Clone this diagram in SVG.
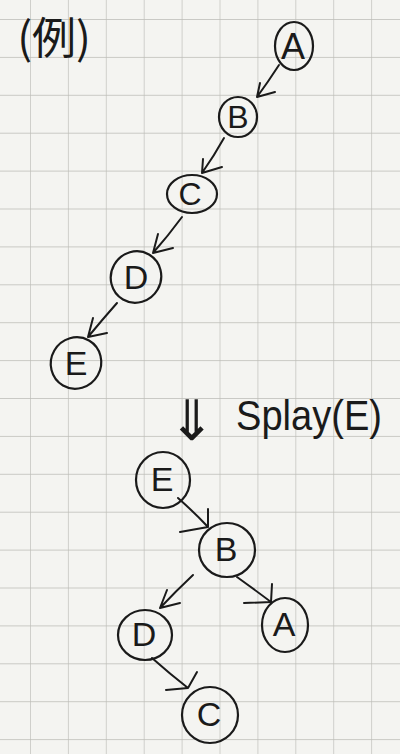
<svg xmlns="http://www.w3.org/2000/svg" width="400" height="754" viewBox="0 0 400 754">
<defs>
<pattern id="grid" x="30" y="19" width="37.9" height="37.9" patternUnits="userSpaceOnUse">
<path d="M0 0H37.9M0 0V37.9" fill="none" stroke="#bcbcb6" stroke-width="1.3"/>
</pattern>
<style>
.n{fill:none;stroke:#1a1a1a;stroke-width:2.2}
.l{font-family:"Liberation Sans",sans-serif;fill:#1a1a1a;text-anchor:middle;dominant-baseline:central}
.c{fill:none;stroke:#1a1a1a;stroke-width:2;stroke-linecap:round;stroke-linejoin:round}
</style>
</defs>
<rect width="400" height="754" fill="#f4f4f1"/>
<rect width="400" height="754" fill="url(#grid)"/>
<text x="54" y="54" font-family="'Noto Sans CJK JP',sans-serif" font-size="44" fill="#1a1a1a" text-anchor="middle">(例)</text>
<g id="connectors">
<path class="c" d="M279 65Q268 82 257 97M260 83L257 97L275 92"/>
<path class="c" d="M224 138Q214 156 202 173M203 159L202 173L222 167"/>
<path class="c" d="M182 217Q168 236 153 253M158 234L153 253L173 248"/>
<path class="c" d="M117 303Q102 320 88 337M93 318L88 337L107 333"/>
<path class="c" d="M178 498Q196 514 208 527M208 509L208 527L180 532"/>
<path class="c" d="M193 575Q176 591 160 608M167 590L160 608L180 603"/>
<path class="c" d="M237 577Q255 590 271 602M272 584L271 602L244 603"/>
<path class="c" d="M152 658Q170 674 188 688M197 672L188 688L166 690"/>
</g>
<g id="A1"><ellipse class="n" cx="294" cy="46" rx="19" ry="24"/><text class="l" x="293" y="46" font-size="36">A</text></g>
<g id="B1"><ellipse class="n" cx="238" cy="117" rx="19" ry="20"/><text class="l" x="238" y="117" font-size="32">B</text></g>
<g id="C1"><ellipse class="n" cx="192" cy="194" rx="25" ry="19"/><text class="l" x="190" y="194" font-size="32">C</text></g>
<g id="D1"><ellipse class="n" cx="136" cy="277" rx="25" ry="26" transform="rotate(30 136 277)"/><text class="l" x="136" y="277" font-size="34">D</text></g>
<g id="E1"><ellipse class="n" cx="76" cy="363" rx="25" ry="26" transform="rotate(30 76 363)"/><text class="l" x="76" y="363" font-size="34">E</text></g>
<g id="splay">
<text x="192" y="440" font-family="'DejaVu Sans',sans-serif" font-size="56" fill="#1a1a1a" text-anchor="middle">⇓</text>
<text x="236" y="430" font-family="'Liberation Sans',sans-serif" font-size="42" fill="#1a1a1a" textLength="146" lengthAdjust="spacingAndGlyphs">Splay(E)</text>
</g>
<g id="E2"><ellipse class="n" cx="163" cy="480" rx="27" ry="28"/><text class="l" x="162" y="479" font-size="34">E</text></g>
<g id="B2"><ellipse class="n" cx="227" cy="550" rx="28" ry="27"/><text class="l" x="226" y="549" font-size="34">B</text></g>
<g id="D2"><ellipse class="n" cx="145" cy="635" rx="27" ry="25"/><text class="l" x="144" y="634" font-size="34">D</text></g>
<g id="A2"><ellipse class="n" cx="285" cy="625" rx="23" ry="27"/><text class="l" x="284" y="624" font-size="34">A</text></g>
<g id="C2"><ellipse class="n" cx="210" cy="715" rx="28" ry="28"/><text class="l" x="209" y="714" font-size="34">C</text></g>
</svg>
